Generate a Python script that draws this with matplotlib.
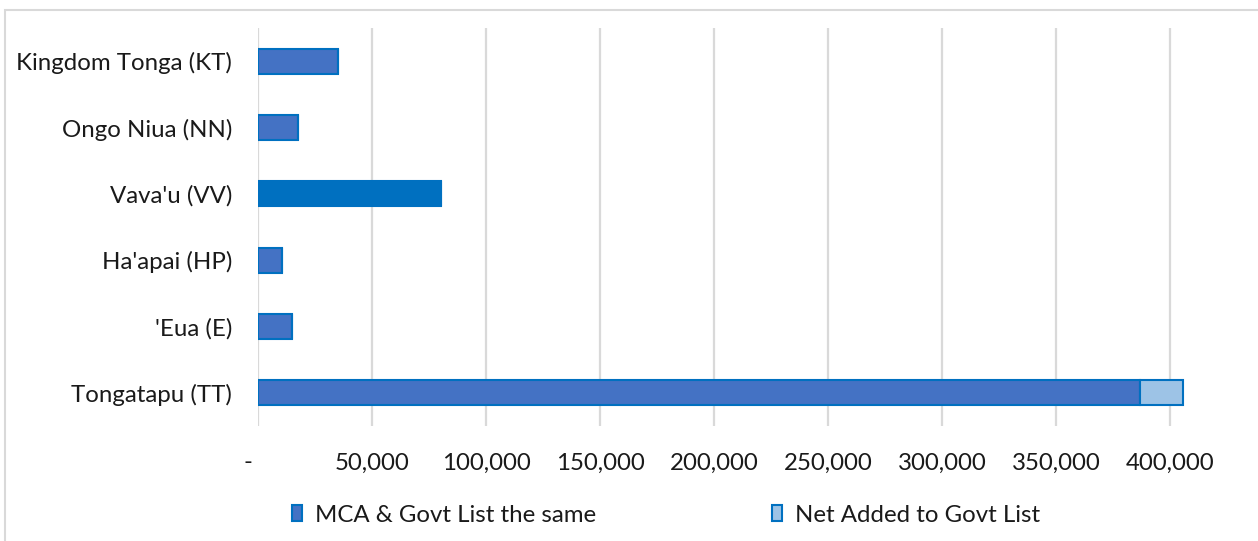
import matplotlib
matplotlib.use("Agg")
import matplotlib.pyplot as plt
from matplotlib.patches import Rectangle, Patch
from matplotlib.ticker import FixedLocator, FuncFormatter

# Island group totals (Kingdom Tonga at top of chart)
regions = ["Tongatapu (TT)", "'Eua (E)", "Ha'apai (HP)", "Vava'u (VV)",
           "Ongo Niua (NN)", "Kingdom Tonga (KT)"]
same_list = [386800, 14900, 10500, 80100, 17500, 35100]
net_added = [18800, 0, 0, 0, 0, 0]
x_ticks = [0, 50000, 100000, 150000, 200000, 250000, 300000, 350000, 400000]

W, H = 1258, 541
fig = plt.figure(figsize=(W / 100, H / 100), dpi=100)
plt.rcParams["font.family"] = ["Lato", "DejaVu Sans"]

# light chart-area border (top and left edges)
fig.patches.append(Rectangle((5 / W, -0.1), 1.2, (H - 10) / H + 0.1,
                             transform=fig.transFigure, fill=False,
                             edgecolor="#D9D9D9", linewidth=1.5))

ax = fig.add_axes([258 / W, 1 - 426 / H, 1 - 258 / W, (426 - 28) / H])
px_per_unit = 114 / 50000
ax.set_xlim(0, (W - 258) / px_per_unit)
ax.set_ylim(-0.5, len(regions) - 0.5)

ypos = list(range(len(regions)))
fill_main = ["#4472C4"] * len(regions)
fill_main[regions.index("Vava'u (VV)")] = "#0070C0"
ax.barh(ypos, same_list, height=0.375, color=fill_main,
        edgecolor="#0070C0", linewidth=1.5, zorder=3)
ax.barh(ypos, net_added, left=same_list, height=0.375, color="#9DC3E6",
        edgecolor="#0070C0", linewidth=1.5, zorder=3)

ax.xaxis.set_major_locator(FixedLocator(x_ticks))
ax.xaxis.set_major_formatter(FuncFormatter(
    lambda v, p: "-   " if v == 0 else f"{int(v):,}"))
ax.grid(axis="x", color="#D9D9D9", linewidth=1.6, zorder=0)
ax.set_yticks(ypos)
ax.set_yticklabels(regions)
ax.tick_params(axis="both", length=0, labelsize=17.3, colors="#1A1A1A")
ax.tick_params(axis="y", pad=18.5)
ax.tick_params(axis="x", pad=19)
for s in ax.spines.values():
    s.set_visible(False)

handles = [Patch(facecolor="#4472C4", edgecolor="#0070C0", linewidth=1.5),
           Patch(facecolor="#9DC3E6", edgecolor="#0070C0", linewidth=1.5)]
fig.legend(handles, ["MCA & Govt List the same", "Net Added to Govt List"],
           loc="center", bbox_to_anchor=(666 / W, 1 - 515 / H), ncol=2,
           frameon=False, fontsize=17.3, handlelength=0.42, handleheight=0.6,
           handletextpad=0.55, columnspacing=7.3, labelcolor="#1A1A1A")

fig.savefig("out.png", dpi=100, facecolor="white")
